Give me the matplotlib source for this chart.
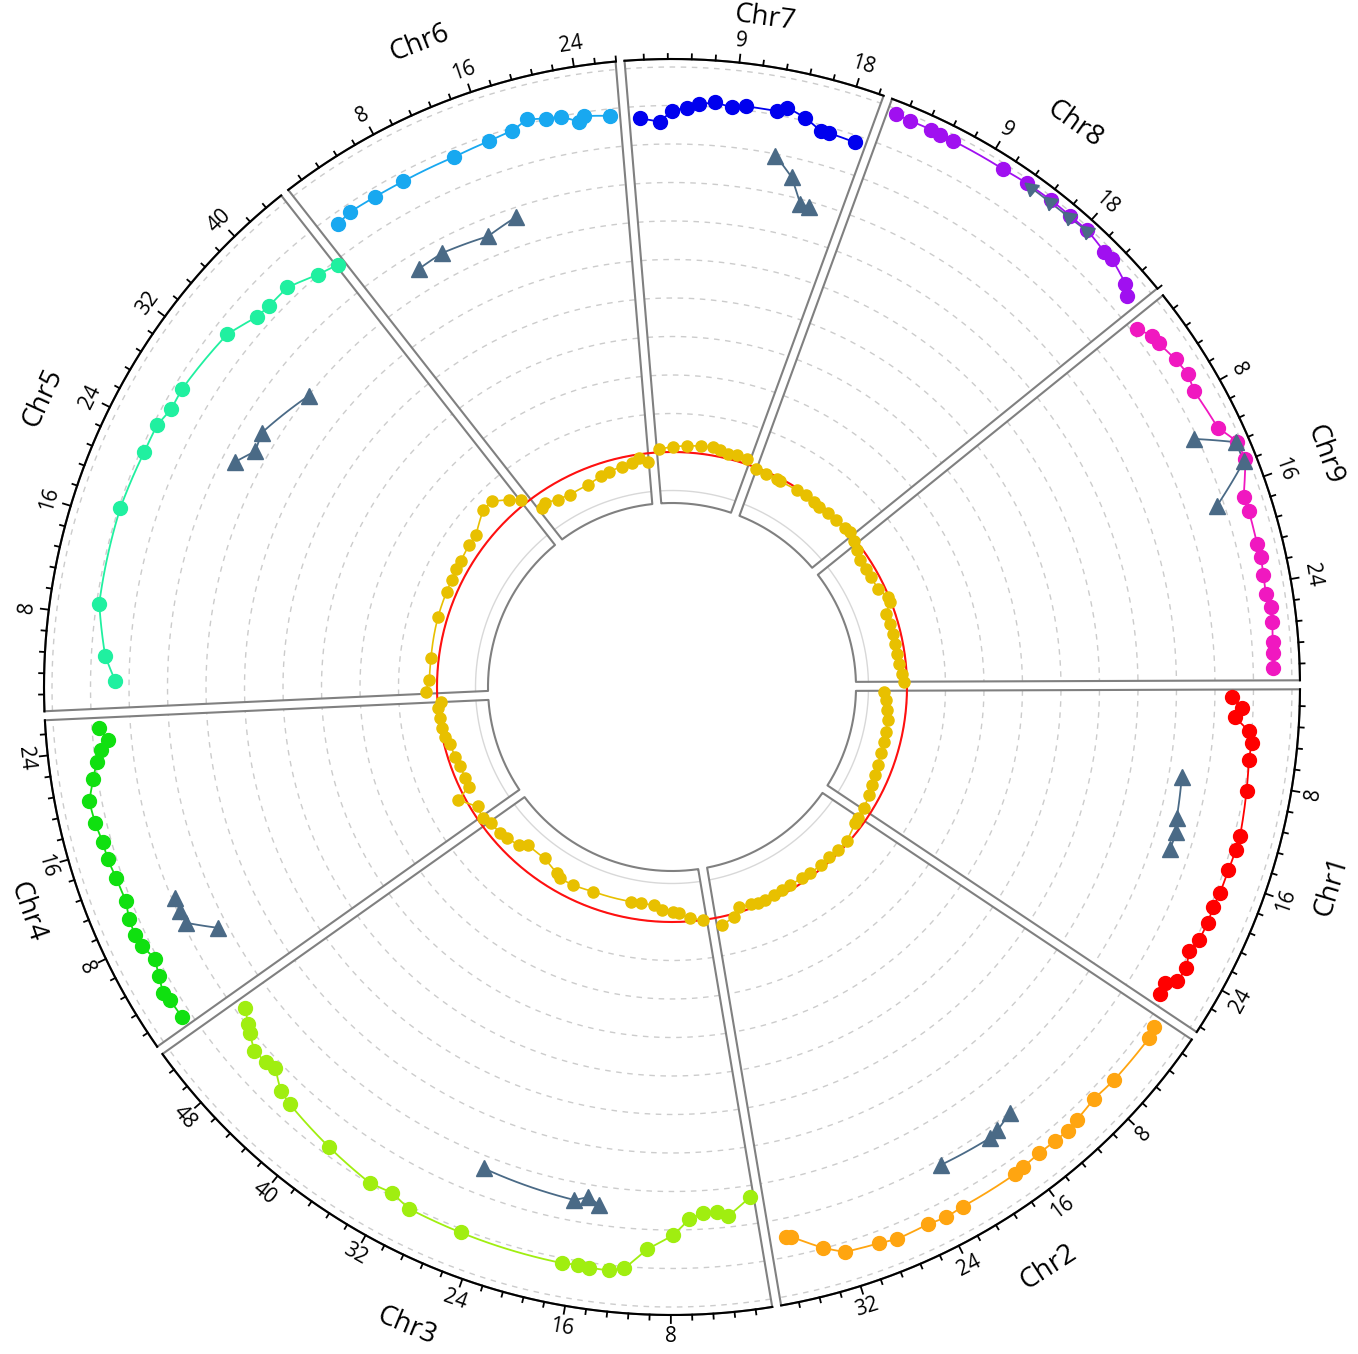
import numpy as np
import matplotlib.pyplot as plt

plt.rcParams["font.family"] = ["Open Sans", "DejaVu Sans"]

OUTPUT_FILE = "out.png"

CHROMS = ["Chr1", "Chr2", "Chr3", "Chr4", "Chr5", "Chr6", "Chr7", "Chr8", "Chr9"]
CHROM_LEN = [28, 38.5, 53, 27, 45, 27.5, 20.5, 25.5, 32]
MAJOR_STEP = [8, 8, 8, 8, 8, 8, 9, 9, 8]
CHROM_COLORS = ["#ff0000", "#ffa510", "#a0ee10", "#10e010", "#20f0a0",
                "#18a8f0", "#0000ee", "#a010f0", "#f018c0"]

# outer track: circles (position, value)
CHR1_POS = [1.0, 1.9, 2.7, 3.8, 4.7, 6.1, 8.6, 12.3, 13.5, 15.2, 17.2, 18.4, 19.8, 21.3, 22.5, 23.8, 25.1, 25.7, 26.7]
CHR1_VAL = [9.44, 9.70, 9.54, 9.93, 10.02, 10.0, 10.06, 10.15, 10.14, 10.11, 10.1, 10.07, 10.1, 10.08, 9.98, 10.12, 10.09, 9.84, 9.86]
CHR2_POS = [1.2, 2.1, 6.5, 8.7, 10.9, 12.0, 13.3, 14.9, 16.6, 17.4, 22.3, 23.9, 25.4, 28.1, 29.6, 32.4, 34.0, 36.3, 36.8]
CHR2_VAL = [10.23, 10.28, 10.26, 10.21, 10.29, 10.34, 10.32, 10.31, 10.34, 10.37, 10.36, 10.40, 10.35, 10.38, 10.31, 10.24, 9.98, 9.51, 9.49]
CHR3_POS = [0.7, 2.9, 3.9, 5.1, 6.4, 7.8, 10.0, 11.8, 13.0, 14.6, 15.5, 16.8, 25.4, 30.0, 31.8, 33.8, 38.2, 43.0, 44.3, 46.0, 46.9, 48.3, 49.7, 50.4, 51.7]
CHR3_VAL = [8.29, 8.71, 8.58, 8.58, 8.73, 9.13, 9.51, 10.05, 10.14, 10.13, 10.10, 10.13, 10.09, 10.07, 9.91, 9.98, 9.80, 9.59, 9.50, 9.18, 9.26, 9.28, 9.08, 8.96, 8.77]
CHR4_POS = [1.15, 2.85, 3.6, 4.9, 6.3, 7.65, 8.75, 10.1, 11.5, 13.5, 15.15, 16.6, 18.2, 20.0, 21.7, 23.0, 24.0, 24.7, 25.8]
CHR4_VAL = [10.24, 10.26, 10.32, 10.19, 10.07, 10.21, 10.26, 10.23, 10.13, 10.16, 10.22, 10.22, 10.29, 10.32, 10.12, 9.97, 9.82, 9.60, 9.83]
CHR5_POS = [2.7, 4.75, 9.0, 17.0, 22.0, 24.4, 26.1, 28.0, 33.85, 36.6, 38.0, 40.2, 42.9, 44.8]
CHR5_VAL = [9.36, 9.64, 9.93, 9.96, 9.90, 9.90, 9.77, 9.79, 9.64, 9.34, 9.30, 9.30, 9.01, 8.88]
CHR6_POS = [1.9, 3.3, 5.7, 8.3, 13.0, 16.1, 18.2, 19.6, 21.1, 22.3, 23.7, 24.2, 26.3]
CHR6_VAL = [9.73, 9.80, 9.78, 9.77, 9.78, 9.85, 9.93, 10.11, 10.02, 9.99, 9.78, 9.90, 9.82]
CHR7_POS = [1.25, 2.9, 3.9, 5.1, 6.1, 7.4, 8.8, 9.9, 12.4, 13.2, 14.8, 16.3, 17.0, 19.2]
CHR7_VAL = [9.69, 9.58, 9.86, 9.95, 10.05, 10.12, 10.03, 10.10, 10.10, 10.24, 10.08, 9.84, 9.85, 9.82]
CHR8_POS = [1.0, 2.2, 4.0, 4.8, 5.9, 10.3, 12.4, 14.7, 16.6, 18.3, 20.4, 21.2, 23.3, 24.1]
CHR8_VAL = [10.87, 10.85, 10.86, 10.84, 10.85, 10.86, 10.90, 10.92, 10.92, 10.93, 10.83, 10.84, 10.66, 10.49]
CHR9_POS = [1.15, 2.3, 3.1, 4.9, 6.4, 7.8, 11.2, 12.8, 14.3, 17.0, 18.2, 20.8, 21.9, 23.3, 24.8, 25.9, 27.1, 28.6, 29.5, 30.7]
CHR9_VAL = [10.13, 10.35, 10.37, 10.50, 10.57, 10.48, 10.59, 10.90, 10.92, 10.54, 10.56, 10.54, 10.56, 10.53, 10.51, 10.58, 10.58, 10.54, 10.54, 10.51]

# outer track: triangles (position, value)
TRI_POS = [[8.4, 12.2, 13.4, 15.0], [14.75, 16.5, 17.35, 22.2], [14.5, 15.6, 16.8, 25.5],
           [6.1, 7.8, 9.0, 10.2], [24.6, 26.5, 28.4, 34.1], [5.7, 8.4, 13.1, 16.3],
           [13.0, 14.8, 16.2, 17.0], [12.9, 14.7, 16.6, 18.3], [11.2, 12.8, 14.4, 17.0]]
TRI_VAL = [[8.34, 8.44, 8.53, 8.50], [9.02, 9.18, 9.23, 9.14], [8.48, 8.32, 8.46, 8.32],
           [8.24, 8.92, 8.94, 8.92], [7.67, 7.33, 7.43, 6.99], [7.59, 7.65, 7.54, 7.76],
           [8.96, 8.50, 7.87, 7.87], [10.87, 10.86, 10.87, 10.91], [9.91, 10.86, 10.86, 9.81]]

# inner track (yellow), threshold ring at 1.0
RING_POS = [
    [1.2, 3.0, 5.2, 7.3, 9.9, 12.1, 14.7, 17.3, 19.5, 21.7, 23.8, 26.8],
    [1.2, 2.4, 6.4, 8.9, 11.1, 13.5, 16.3, 18.3, 21.1, 22.9, 24.9, 26.9, 28.5, 29.9, 32.4, 33.9, 36.6],
    [1.6, 4.3, 6.4, 7.8, 10.0, 11.9, 14.6, 16.8, 25.3, 29.9, 32.9, 34.0, 38.1, 42.9, 44.3, 47.1, 48.8, 51.7],
    [0.5, 3.1, 6.2, 7.6, 9.5, 12.2, 14.5, 17.2, 19.0, 20.8, 22.8, 24.9, 26.2],
    [1.3, 3.6, 7.8, 16.0, 21.1, 23.6, 25.7, 27.5, 31.1, 33.4, 37.8, 40.0, 42.6, 44.4],
    [1.7, 2.9, 5.5, 8.3, 12.9, 16.0, 18.0, 20.8, 23.0, 24.6, 26.3],
    [1.4, 4.1, 6.9, 9.6, 11.9, 13.3, 15.1, 16.8, 19.0],
    [0.7, 3.0, 5.4, 6.2, 10.2, 12.2, 14.4, 15.8, 18.0, 20.2, 22.5, 23.8],
    [0.3, 2.1, 4.2, 6.3, 8.3, 11.1, 13.5, 14.6, 16.6, 18.8, 21.0, 23.1, 25.3, 27.4, 29.5, 31.2],
]
RING_VAL = [
    [0.41, 0.46, 0.50, 0.56, 0.57, 0.59, 0.59, 0.61, 0.65, 0.69, 0.73, 0.79],
    [0.82, 0.82, 0.95, 0.94, 0.91, 0.92, 0.92, 0.90, 0.88, 0.90, 0.91, 0.93, 0.94, 0.90, 0.88, 1.08, 1.21],
    [1.00, 0.92, 0.78, 0.73, 0.69, 0.58, 0.57, 0.57, 0.59, 0.65, 0.65, 0.58, 0.44, 0.45, 0.61, 0.71, 0.76, 0.77],
    [0.88, 0.82, 1.17, 0.77, 0.76, 0.77, 0.81, 0.85, 0.93, 0.97, 0.98, 1.00, 0.91],
    [1.29, 1.20, 1.20, 1.24, 1.25, 1.26, 1.29, 1.28, 1.33, 1.34, 1.62, 1.61, 1.34, 1.14],
    [0.64, 0.70, 0.60, 0.55, 0.58, 0.67, 0.72, 0.77, 0.80, 0.90, 0.78],
    [1.08, 1.14, 1.17, 1.20, 1.21, 1.17, 1.13, 1.15, 1.12],
    [0.97, 0.95, 0.95, 0.93, 0.95, 0.97, 0.96, 0.95, 0.96, 0.98, 1.01, 1.03],
    [0.96, 0.87, 0.79, 0.79, 0.80, 0.82, 0.97, 0.96, 0.78, 0.79, 0.79, 0.79, 0.80, 0.83, 0.87, 0.93],
]
THRESHOLD = 1.0

CIRCLE_POS = [CHR1_POS, CHR2_POS, CHR3_POS, CHR4_POS, CHR5_POS, CHR6_POS, CHR7_POS, CHR8_POS, CHR9_POS]
CIRCLE_VAL = [CHR1_VAL, CHR2_VAL, CHR3_VAL, CHR4_VAL, CHR5_VAL, CHR6_VAL, CHR7_VAL, CHR8_VAL, CHR9_VAL]

# layout (pixel units, y pointing down)
CX, CY = 672, 687
R_IN, R_OUT = 184, 628
R0, DR = 196.5, 38.5
START_DEG = 0.2
GAP_OFFSET = 4.5
LABEL_R = 692
LABEL_MIN_Y = 18
LABEL_MIN_X = 27
TRI_COLOR = "#4a6a86"
RING_COLOR = "#e8c000"
FRAME_COLOR = "#808080"

deg_per_unit = 360.0 / sum(CHROM_LEN)
sector_start = START_DEG - deg_per_unit * np.concatenate([[0], np.cumsum(CHROM_LEN)[:-1]])


def to_xy(theta_deg, r):
    t = np.radians(theta_deg)
    return CX + r * np.cos(t), CY - r * np.sin(t)


def track_xy(i, pos, val):
    theta = sector_start[i] - np.asarray(pos, float) * deg_per_unit
    return to_xy(theta, R0 + DR * np.asarray(val, float))


def dense(pos, val, n=12):
    ps, vs = [pos[0]], [val[0]]
    for k in range(len(pos) - 1):
        ps.extend(np.linspace(pos[k], pos[k + 1], n)[1:])
        vs.extend(np.linspace(val[k], val[k + 1], n)[1:])
    return ps, vs


def arc_limits(i, r):
    a_s = sector_start[i]
    a_e = a_s - CHROM_LEN[i] * deg_per_unit
    da = np.degrees(np.arcsin(GAP_OFFSET / r))
    return a_s - da, a_e + da


def label_rotation(theta):
    t = (theta + 180) % 360 - 180
    return t - 90 if t > 0 else t + 90


fig = plt.figure(figsize=(13.58, 13.54), dpi=100)
ax = fig.add_axes([0, 0, 1, 1])
ax.set_xlim(0, 1358)
ax.set_ylim(1354, 0)
ax.set_aspect("equal")
ax.axis("off")

for i, name in enumerate(CHROMS):
    # grid arcs
    for k in range(12):
        r = R0 + DR * k
        a1, a2 = arc_limits(i, r)
        th = np.linspace(a1, a2, 200)
        gx, gy = to_xy(th, r)
        if k == 0:
            ax.plot(gx, gy, color="#d8d8d8", lw=1.0, zorder=1)
        else:
            ax.plot(gx, gy, color="#cccccc", lw=1.0, ls=(0, (4, 4)), zorder=1)

    # sector frame
    o1, o2 = arc_limits(i, R_OUT)
    n1, n2 = arc_limits(i, R_IN)
    th_o = np.linspace(o1, o2, 300)
    th_n = np.linspace(n2, n1, 200)
    ox, oy = to_xy(th_o, R_OUT)
    nx_, ny_ = to_xy(th_n, R_IN)
    fx = np.concatenate([ox, nx_, ox[:1]])
    fy = np.concatenate([oy, ny_, oy[:1]])
    ax.plot(fx, fy, color=FRAME_COLOR, lw=1.5, zorder=2)
    ax.plot(ox, oy, color="black", lw=1.5, zorder=3)

    # ticks
    minor = MAJOR_STEP[i] / 5.0
    k = 1
    while k * minor < CHROM_LEN[i] - 0.2:
        p = k * minor
        th = sector_start[i] - p * deg_per_unit
        major = k % 5 == 0
        tl = 8 if major else 5
        tx, ty = to_xy(np.array([th, th]), np.array([R_OUT, R_OUT + tl]))
        ax.plot(tx, ty, color="black", lw=1.3, zorder=3)
        if major:
            lx, ly = to_xy(th, R_OUT + 22)
            ax.text(lx, ly, f"{int(round(p))}", fontsize=15, ha="center", va="center",
                    rotation=label_rotation(th), rotation_mode="anchor", zorder=4)
        k += 1

    # chromosome label
    mid = sector_start[i] - CHROM_LEN[i] * deg_per_unit / 2
    lx, ly = to_xy(mid, LABEL_R)
    lx = min(max(lx, LABEL_MIN_X), 1358 - LABEL_MIN_X)
    ly = max(ly, LABEL_MIN_Y)
    ax.text(lx, ly, name, fontsize=20, ha="center", va="center",
            rotation=label_rotation(mid), rotation_mode="anchor", zorder=4)

    # inner yellow track
    dp, dv = dense(RING_POS[i], RING_VAL[i])
    x, y = track_xy(i, dp, dv)
    ax.plot(x, y, color=RING_COLOR, lw=1.2, zorder=5)
    x, y = track_xy(i, RING_POS[i], RING_VAL[i])
    ax.plot(x, y, ls="none", marker="o", ms=8, color=RING_COLOR, zorder=5)

    # triangles
    dp, dv = dense(TRI_POS[i], TRI_VAL[i])
    x, y = track_xy(i, dp, dv)
    ax.plot(x, y, color=TRI_COLOR, lw=1.3, zorder=6)
    x, y = track_xy(i, TRI_POS[i], TRI_VAL[i])
    marker = (3, 0, 170) if name == "Chr8" else "^"
    ax.plot(x, y, ls="none", marker=marker, ms=12, color=TRI_COLOR, zorder=7)

    # colored circles
    dp, dv = dense(CIRCLE_POS[i], CIRCLE_VAL[i])
    x, y = track_xy(i, dp, dv)
    ax.plot(x, y, color=CHROM_COLORS[i], lw=1.3, zorder=6)
    x, y = track_xy(i, CIRCLE_POS[i], CIRCLE_VAL[i])
    ax.plot(x, y, ls="none", marker="o", ms=10, color=CHROM_COLORS[i], zorder=6)

# threshold ring
th = np.linspace(0, 360, 721)
rx, ry = to_xy(th, R0 + DR * THRESHOLD)
ax.plot(rx, ry, color="#ff1010", lw=1.5, zorder=4)

fig.savefig(OUTPUT_FILE, dpi=100)
plt.close(fig)
